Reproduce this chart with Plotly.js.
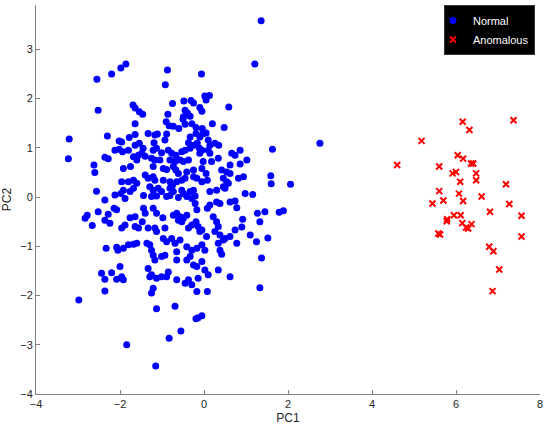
<!DOCTYPE html>
<html>
<head>
<meta charset="utf-8">
<script src="https://cdn.plot.ly/plotly-3.0.1.min.js"></script>
<style>
  html, body { margin: 0; padding: 0; background: #fff; }
  #chart { width: 550px; height: 434px; }
</style>
</head>
<body>
<div id="chart"></div>
<script>
// [PC1, PC2]
const normalPoints = [
  [-1.86,2.70],[-1.98,2.62],[-2.20,2.50],[-2.55,2.39],[-0.87,2.58],[-0.92,2.28],[-2.52,1.76],[-1.69,1.87],
  [-1.64,1.81],[-1.54,1.73],[-1.46,1.68],[-1.64,1.49],[-0.75,1.90],[-0.48,1.95],[-0.45,1.76],[-0.39,1.70],
  [-0.49,1.63],[-0.86,1.68],[-0.90,1.53],[-0.83,1.45],[-0.73,1.44],[-0.33,1.64],[-0.31,1.96],[-0.45,1.48],
  [-0.29,1.49],[-0.50,1.58],
  [1.36,3.58],[1.21,2.70],[-0.06,2.50],[-0.25,1.91],[0.02,2.05],[0.13,2.06],[0.05,1.97],[-0.10,1.82],
  [-0.05,1.74],[0.59,1.83],[-0.19,1.41],[-0.04,1.39],[0.20,1.49],[0.48,1.41],
  [-0.60,1.39],[-0.19,1.29],[-1.33,1.29],[-1.17,1.26],[-1.11,1.28],[-0.89,1.28],[-1.78,1.21],[-1.96,1.12],
  [-1.19,1.10],[-0.93,1.16],[-0.33,1.22],[-0.37,1.10],[-0.10,1.22],[-0.03,1.28],[0.05,1.30],[0.10,1.16],
  [0.14,1.05],[0.26,1.09],[0.35,1.05],[-1.64,1.05],[-1.54,1.09],[-1.45,0.99],[-1.80,0.95],[-1.94,0.92],
  [-1.21,0.95],[-1.13,0.99],[-1.01,0.90],[-0.85,0.95],[-0.77,0.89],[-0.67,0.85],[-0.53,0.92],[-0.45,0.95],
  [-0.33,0.99],[-0.24,1.05],[-0.16,1.09],[-0.11,0.99],[-0.10,0.89],[-0.05,0.95],[0.10,0.95],[0.14,0.89],
  [0.86,0.95],[0.66,0.89],[0.74,0.85],[1.02,0.75],[0.86,0.67],[0.34,0.79],[0.18,0.72],[-0.02,0.72],
  [-1.68,0.82],[-1.56,0.85],[-1.48,0.89],[-1.40,0.83],[-1.60,0.75],[-1.25,0.79],[-1.17,0.75],[-1.05,0.75],
  [-0.81,0.75],[-0.69,0.72],[-0.57,0.75],[-0.49,0.72],[-0.37,0.75],[-1.92,0.58],[-1.75,0.62],[-1.21,0.62],
  [-0.97,0.58],[-0.89,0.56],[-0.73,0.62],[-0.67,0.55],[-0.61,0.48],[-0.41,0.51],[-0.25,0.55],[-0.05,0.58],
  [0.05,0.48],[0.42,0.55],[0.54,0.51],[0.62,0.48],[-1.40,0.45],[-1.33,0.38],[-1.21,0.41],[-1.17,0.34],
  [-1.96,0.31],[-1.80,0.31],[-1.68,0.34],[-1.60,0.28],[-0.97,0.34],[-0.81,0.31],[-0.75,0.24],[-0.65,0.31],
  [-0.53,0.34],[-0.45,0.38],[-0.25,0.41],[-0.17,0.38],[-0.05,0.31],[0.08,0.34],[0.46,0.38],[0.54,0.31],
  [0.46,0.21],[0.82,0.38],[0.94,0.41],[-1.92,0.14],[-1.76,0.11],[-1.68,0.18],[-1.29,0.21],[-1.21,0.14],
  [-1.09,0.18],[-1.01,0.11],[-0.81,0.18],[-0.73,0.11],[-0.53,0.14],[-0.49,0.07],[-0.33,0.11],[-0.25,0.14],
  [0.14,0.11],[0.30,0.14],[0.98,0.07],[-1.64,1.27],[0.62,0.65],[0.58,0.28],[0.50,0.18],
  [2.76,1.09],[1.63,0.97],[1.59,0.43],[1.60,0.27],[2.06,0.26],[1.16,0.05],[1.27,-0.33],[1.45,-0.30],
  [1.79,-0.31],[1.89,-0.28],[1.33,-0.50],[1.25,-0.91],[1.52,-0.83],[1.10,-0.77],[0.92,-0.45],[0.90,-0.61],
  [1.37,-1.24],[1.33,-1.84],
  [-1.88,-0.03],[-1.44,0.03],[-1.25,0.01],[-1.13,0.02],[-0.89,0.01],[-0.81,0.03],[-0.61,-0.01],[-0.41,0.01],
  [-0.29,-0.03],[-0.21,0.02],[-0.21,-0.13],[-0.17,-0.26],[0.08,-0.23],[0.14,-0.16],[0.30,-0.10],[0.38,-0.13],
  [0.62,-0.10],[0.74,-0.08],[0.78,-0.22],[-1.44,-0.23],[-1.40,-0.33],[-1.21,-0.23],[-1.13,-0.33],[-0.98,-0.42],
  [-1.76,-0.42],[-1.64,-0.40],[-1.88,-0.57],[-1.96,-0.63],[-1.64,-0.60],[-1.56,-0.63],[-1.33,-0.63],[-1.17,-0.63],
  [-1.13,-0.70],[-0.93,-0.63],[-0.73,-0.37],[-0.65,-0.33],[-0.57,-0.40],[-0.49,-0.43],[-0.41,-0.37],[-0.53,-0.50],
  [-0.61,-0.47],[-0.37,-0.63],[-0.29,-0.57],[-0.19,-0.50],[-0.14,-0.60],[-0.10,-0.70],[-0.05,-0.67],[0.06,-0.80],
  [0.26,-0.70],[0.38,-0.77],[0.50,-0.84],[0.62,-0.80],[0.74,-0.67],[0.78,-0.94],[0.34,-0.60],[0.30,-0.50],
  [0.22,-0.40],[-1.92,-1.04],[-1.80,-0.97],[-1.68,-0.96],[-1.60,-0.94],[-1.36,-0.94],[-1.29,-0.97],[-1.25,-1.08],
  [-1.21,-1.18],[-1.17,-1.28],[-0.97,-0.84],[-0.89,-0.91],[-0.77,-0.84],[-0.69,-0.94],[-0.57,-0.87],[-0.65,-1.11],
  [-0.41,-1.01],[-0.29,-1.08],[-0.17,-1.04],[-0.05,-0.97],[0.02,-1.08],[-0.93,-1.18],[-1.01,-1.21],[-0.65,-1.28],
  [-0.41,-1.28],[-0.33,-1.21],[-0.25,-1.38],[-0.17,-1.41],[0.02,-1.48],[0.10,-1.58],[0.34,-1.48],[0.62,-1.62],
  [-1.33,-1.45],[-1.25,-1.58],[-1.29,-1.62],[-1.13,-1.65],[-1.01,-1.62],[-0.85,-1.52],[-0.89,-1.62],[-1.96,-1.62],
  [-1.92,-1.68],[-0.65,-1.68],[-0.45,-1.75],[-0.37,-1.68],[-0.29,-1.78],[-0.14,-1.65],[-1.25,-1.95],[-1.21,-1.85],
  [-0.17,-1.92],[0.08,-1.92],[0.34,-0.94],[0.46,-0.87],[0.38,-1.08],[0.42,-1.16],[-0.05,-1.31],[-1.47,-0.50],
  [-3.21,1.18],[-3.23,0.78],[-2.30,1.24],[-2.02,1.14],[-2.12,0.95],[-2.02,0.97],[-2.36,0.81],[-2.28,0.78],
  [-2.62,0.65],[-2.60,0.50],[-2.56,0.12],[-2.36,-0.06],[-2.52,-0.30],[-2.78,-0.37],[-2.83,-0.43],[-2.66,-0.58],
  [-2.12,0.04],[-1.98,0.07],[-2.28,-0.35],[-2.14,-0.23],[-2.08,-0.26],[-2.36,-0.47],[-2.24,-0.53],
  [-2.33,-1.04],[-2.08,-1.02],[-2.05,-1.08],[-2.44,-1.55],[-2.20,-1.54],[-2.00,-1.41],[-2.36,-1.67],[-2.08,-1.67],
  [-2.36,-1.91],[-2.98,-2.09],[-1.84,-3.00],[-1.13,-2.27],[-0.69,-2.22],[-0.19,-2.47],[-0.14,-2.45],[-0.05,-2.41],
  [-0.55,-2.72],[-0.83,-2.87],[-1.15,-3.43]
];

const anomalousPoints = [
  [6.16,1.53],[6.32,1.36],[7.37,1.56],[5.18,1.14],[4.60,0.65],[6.04,0.85],[6.17,0.78],[6.36,0.68],
  [6.41,0.68],[5.60,0.62],[5.92,0.48],[6.00,0.51],[6.48,0.48],[6.48,0.34],[6.10,0.31],[7.19,0.26],
  [5.60,0.12],[6.07,0.07],[6.61,0.01],[5.70,-0.07],[5.44,-0.13],[6.17,-0.08],[7.27,-0.14],[6.81,-0.30],
  [7.56,-0.38],[5.95,-0.37],[6.11,-0.37],[5.79,-0.45],[5.78,-0.49],[6.15,-0.53],[6.24,-0.62],[6.29,-0.64],
  [6.37,-0.55],[5.58,-0.74],[5.62,-0.76],[7.56,-0.80],[6.79,-1.01],[6.89,-1.10],[7.03,-1.47],[6.87,-1.91]
];

const xTicks = [-4, -2, 0, 2, 4, 6, 8];
const yTicks = [-4, -3, -2, -1, 0, 1, 2, 3];

const axisColor = '#808080';
const textColor = '#262626';

const traces = [
  {
    type: 'scatter',
    mode: 'markers',
    name: 'Normal',
    x: normalPoints.map((p) => p[0]),
    y: normalPoints.map((p) => p[1]),
    marker: { color: '#0000ff', size: 7, symbol: 'circle' }
  },
  {
    type: 'scatter',
    mode: 'markers',
    name: 'Anomalous',
    x: anomalousPoints.map((p) => p[0]),
    y: anomalousPoints.map((p) => p[1]),
    marker: { color: '#ff0000', size: 6, symbol: 'x-thin', line: { color: '#ff0000', width: 2 } }
  }
];

const layout = {
  width: 550,
  height: 434,
  paper_bgcolor: '#ffffff',
  plot_bgcolor: '#ffffff',
  margin: { l: 36, r: 10, t: 5, b: 40 },
  font: { family: 'Liberation Sans, Arial, sans-serif', color: textColor, size: 11 },
  showlegend: true,
  legend: {
    x: 0.99, y: 1, xanchor: 'right', yanchor: 'top',
    bgcolor: '#000000',
    bordercolor: '#333333',
    borderwidth: 1,
    itemwidth: 30,
    indentation: -12,
    font: { color: '#ffffff', size: 11 }
  },
  xaxis: {
    range: [-4, 8],
    tickvals: xTicks,
    ticks: 'inside', ticklen: 4, tickcolor: axisColor,
    showline: true, linecolor: axisColor, linewidth: 1, mirror: false,
    showgrid: false, zeroline: false,
    title: { text: 'PC1', font: { size: 12, color: textColor }, standoff: 4 }
  },
  yaxis: {
    range: [-4, 3.9],
    tickvals: yTicks,
    ticks: 'inside', ticklen: 4, tickcolor: axisColor,
    showline: true, linecolor: axisColor, linewidth: 1, mirror: false,
    showgrid: false, zeroline: false,
    title: { text: 'PC2', font: { size: 12, color: textColor }, standoff: 8 }
  }
};

Plotly.newPlot('chart', traces, layout, { displayModeBar: false, staticPlot: true });
</script>
</body>
</html>
